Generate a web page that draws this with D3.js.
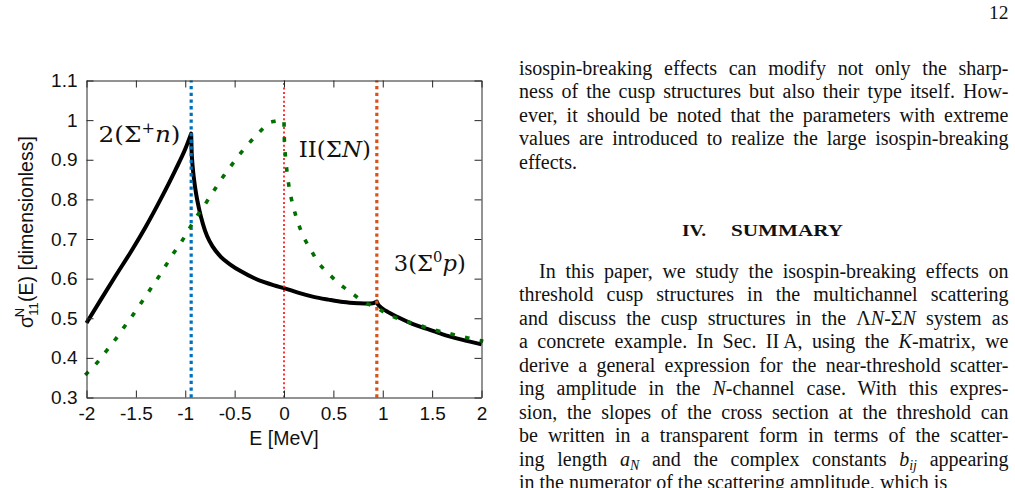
<!DOCTYPE html>
<html>
<head>
<meta charset="utf-8">
<script src="https://cdn.jsdelivr.net/npm/d3@7"></script>
<style>
  body { margin: 0; background: #fff; }
</style>
</head>
<body>
<svg id="page" width="1015" height="488"></svg>
<script>
// cross section sigma_11^N(E)
const blackE = [-2, -1.85, -1.7, -1.55, -1.4, -1.25, -1.1, -1.0, -0.94,
  -0.935, -0.93, -0.92, -0.91, -0.89, -0.86, -0.82, -0.78, -0.72, -0.64, -0.54, -0.44, -0.3, -0.2, -0.1, 0,
  0.15, 0.3, 0.45, 0.6, 0.75, 0.85, 0.9, 0.94,
  0.95, 0.97, 1.0, 1.05, 1.15, 1.3, 1.45, 1.6, 1.8, 2.0];
const blackS = [0.488, 0.549, 0.609, 0.668, 0.731, 0.800, 0.874, 0.927, 0.966,
  0.918, 0.898, 0.870, 0.848, 0.814, 0.776, 0.737, 0.708, 0.680, 0.655, 0.635, 0.619, 0.601, 0.591, 0.583, 0.576,
  0.564, 0.554, 0.547, 0.541, 0.538, 0.537, 0.538, 0.542,
  0.536, 0.530, 0.524, 0.516, 0.503, 0.486, 0.473, 0.460, 0.446, 0.434];
const blackCusps = [-0.94, 0.94];

const greenE = [-2, -1.892, -1.797, -1.706, -1.618, -1.531, -1.443, -1.362, -1.278, -1.197, -1.116, -1.031,
  -0.954, -0.873, -0.788, -0.707, -0.623, -0.535, -0.444, -0.349, -0.245, -0.13, 0,
  0.002, 0.008, 0.02, 0.04, 0.066, 0.1, 0.144, 0.2, 0.275, 0.353, 0.454, 0.565, 0.684, 0.802, 0.94,
  1.0, 1.078, 1.213, 1.359, 1.5, 1.646, 1.794, 1.939, 2.0];
const greenS = [0.360, 0.388, 0.418, 0.447, 0.478, 0.508, 0.540, 0.570, 0.601, 0.633, 0.665, 0.696,
  0.728, 0.761, 0.792, 0.823, 0.855, 0.885, 0.915, 0.943, 0.971, 0.995, 1.0,
  0.965, 0.932, 0.895, 0.851, 0.812, 0.776, 0.740, 0.705, 0.671, 0.639, 0.612, 0.586, 0.564, 0.542, 0.528,
  0.517, 0.507, 0.494, 0.483, 0.472, 0.463, 0.454, 0.446, 0.443];
const greenCusps = [0, 0.94];

// thresholds: Sigma+ n, average Sigma N, Sigma0 p
const thresholdE = [-0.94, 0, 0.94];
const thresholdColors = ["#0072bd", "#ff2020", "#d95319"];

const xTicks = [-2, -1.5, -1, -0.5, 0, 0.5, 1, 1.5, 2];
const xTickLabels = ["-2", "-1.5", "-1", "-0.5", "0", "0.5", "1", "1.5", "2"];
const yTicks = [0.3, 0.4, 0.5, 0.6, 0.7, 0.8, 0.9, 1.0, 1.1];
const yTickLabels = ["0.3", "0.4", "0.5", "0.6", "0.7", "0.8", "0.9", "1", "1.1"];

const para1 = [
  "isospin-breaking effects can modify not only the sharp-",
  "ness of the cusp structures but also their type itself. How-",
  "ever, it should be noted that the parameters with extreme",
  "values are introduced to realize the large isospin-breaking",
  "effects."
];
const para2 = [
  "In this paper, we study the isospin-breaking effects on",
  "threshold cusp structures in the multichannel scattering",
  "and discuss the cusp structures in the Λ*N*-Σ*N* system as",
  "a concrete example. In Sec. II\u2009A, using the *K*-matrix, we",
  "derive a general expression for the near-threshold scatter-",
  "ing amplitude in the *N*-channel case. With this expres-",
  "sion, the slopes of the cross section at the threshold can",
  "be written in a transparent form in terms of the scatter-",
  "ing length *a*_N and the complex constants *b*_ij appearing",
  "in the numerator of the scattering amplitude, which is"
];

const svg = d3.select("#page");
svg.append("rect").attr("width", 1015).attr("height", 488).attr("fill", "#fff");

// ---------- chart ----------
const x = d3.scaleLinear().domain([-2, 2]).range([86.5, 481.5]);
const y = d3.scaleLinear().domain([0.3, 1.1]).range([397.5, 80.5]);
const sans = "'Liberation Sans', Arial, Helvetica, sans-serif";
const axisColor = "#262626";

const chart = svg.append("g");

const line = d3.line().x(d => x(d[0])).y(d => y(d[1])).curve(d3.curveMonotoneX);

// one path, broken into smooth pieces at the cusps
function cuspPath(E, S, cusps) {
  const pts = E.map((e, i) => [e, S[i]]);
  const pieces = [];
  let cur = [];
  pts.forEach(p => {
    cur.push(p);
    if (cusps.includes(p[0])) { pieces.push(cur); cur = [p]; }
  });
  if (cur.length > 1) pieces.push(cur);
  return pieces.map((seg, i) => i === 0 ? line(seg) : line(seg).replace(/^M/, "L")).join("");
}

chart.append("path")
  .attr("d", cuspPath(blackE, blackS, blackCusps))
  .attr("fill", "none")
  .attr("stroke", "#000")
  .attr("stroke-width", 4)
  .attr("stroke-linejoin", "round");

chart.selectAll(".threshold")
  .data(thresholdE)
  .enter().append("line")
  .attr("class", "threshold")
  .attr("x1", d => x(d)).attr("x2", d => x(d))
  .attr("y1", y(0.3)).attr("y2", y(1.1))
  .attr("stroke", (d, i) => thresholdColors[i])
  .attr("stroke-width", (d, i) => i === 1 ? 1.8 : 3.2)
  .attr("stroke-dasharray", (d, i) => i === 1 ? "2 2.4" : "3.3 3.4");

chart.append("path")
  .attr("d", cuspPath(greenE, greenS, greenCusps))
  .attr("fill", "none")
  .attr("stroke", "#007000")
  .attr("stroke-width", 3.6)
  .attr("stroke-linecap", "square")
  .attr("stroke-dasharray", "1 14");

// axes box, ticks pointing inward
function styleAxis(g) {
  g.select(".domain").attr("stroke", axisColor).attr("stroke-width", 1);
  g.selectAll(".tick line").attr("stroke", axisColor);
  g.selectAll("text").attr("font-family", sans).attr("font-size", 19).attr("fill", "#111");
}
chart.append("g")
  .attr("transform", `translate(0,${y(0.3)})`)
  .call(d3.axisBottom(x).tickValues(xTicks).tickFormat((d, i) => xTickLabels[i])
    .tickSizeInner(-7).tickSizeOuter(0).tickPadding(9.5))
  .call(styleAxis);
chart.append("g")
  .attr("transform", `translate(0,${y(1.1)})`)
  .call(d3.axisTop(x).tickValues(xTicks).tickFormat("").tickSizeInner(-7).tickSizeOuter(0))
  .call(styleAxis);
chart.append("g")
  .attr("transform", `translate(${x(-2)},0)`)
  .call(d3.axisLeft(y).tickValues(yTicks).tickFormat((d, i) => yTickLabels[i])
    .tickSizeInner(-7).tickSizeOuter(0).tickPadding(9))
  .call(styleAxis);
chart.append("g")
  .attr("transform", `translate(${x(2)},0)`)
  .call(d3.axisRight(y).tickValues(yTicks).tickFormat("").tickSizeInner(-7).tickSizeOuter(0))
  .call(styleAxis);

chart.append("text")
  .attr("x", (x(-2) + x(2)) / 2).attr("y", 445)
  .attr("text-anchor", "middle")
  .attr("font-family", sans).attr("font-size", 19.5).attr("fill", "#111")
  .text("E [MeV]");

const ylab = chart.append("text")
  .attr("transform", "translate(33,232) rotate(-90)")
  .attr("text-anchor", "middle")
  .attr("font-family", sans).attr("font-size", 19.5).attr("fill", "#111");
ylab.append("tspan").text("σ");
ylab.append("tspan").attr("font-size", 13).attr("dy", 5).text("11");
ylab.append("tspan").attr("font-size", 13).attr("dx", -15).attr("dy", -14).text("N");
ylab.append("tspan").attr("dx", 6).attr("dy", 9).text("(E) [dimensionless]");

// channel labels
const serif = "'DejaVu Serif', 'Liberation Serif', serif";
const labels = [
  {e: -1.878, s: 0.945, w: 82, parts: [["2(Σ", ""], ["+", "sup"], ["n", "it"], [")", ""]]},
  {e: 0.15, s: 0.908, w: 72, parts: [["II(Σ", ""], ["N", "it"], [")", ""]]},
  {e: 1.112, s: 0.618, w: 72, parts: [["3(Σ", ""], ["0", "sup"], ["p", "it"], [")", ""]]}
];
labels.forEach(l => {
  const t = chart.append("text")
    .attr("x", x(l.e)).attr("y", y(l.s))
    .attr("font-family", serif).attr("font-size", 23).attr("fill", "#111")
    .attr("textLength", l.w).attr("lengthAdjust", "spacingAndGlyphs");
  let up = 0;
  l.parts.forEach(([txt, kind]) => {
    const ts = t.append("tspan").text(txt);
    if (kind === "sup") { ts.attr("font-size", 15).attr("dy", -9); up = 9; return; }
    if (kind === "it") ts.attr("font-style", "italic");
    if (up) { ts.attr("dy", up); up = 0; }
  });
});

// ---------- text column ----------
const textFont = "'Liberation Serif', 'Times New Roman', serif";
const colLeft = 519, colRight = 1008.5, lead = 23.45;
const col = svg.append("g").attr("font-family", textFont).attr("font-size", 20).attr("fill", "#111");

function drawLine(str, x0, yb, justify) {
  const t = col.append("text").attr("x", x0).attr("y", yb);
  let down = 0;
  str.split(/(\*[^*]+\*|_[A-Za-z]+)/).filter(s => s).forEach(s => {
    const ts = t.append("tspan");
    if (s[0] === "_") {
      ts.text(s.slice(1)).attr("font-style", "italic").attr("font-size", 14).attr("dy", 4);
      down = 4;
      return;
    }
    if (s[0] === "*") ts.text(s.slice(1, -1)).attr("font-style", "italic");
    else ts.text(s);
    if (down) { ts.attr("dy", -down); down = 0; }
  });
  if (justify) {
    const natural = t.node().getComputedTextLength();
    const spaces = (str.match(/ /g) || []).length;
    if (spaces) t.attr("word-spacing", ((colRight - x0) - natural) / spaces + "px");
  }
}

para1.forEach((s, i) => drawLine(s, colLeft, 75 + i * lead, i < para1.length - 1));
para2.forEach((s, i) => drawLine(s, i === 0 ? colLeft + 20 : colLeft, 278 + i * lead, i < para2.length - 1));

const head = col.append("text")
  .attr("y", 236)
  .attr("font-weight", "bold").attr("font-size", 17);
head.append("tspan").attr("x", 682).attr("textLength", 24).attr("lengthAdjust", "spacingAndGlyphs").text("IV.");
head.append("tspan").attr("x", 731).attr("textLength", 112).attr("lengthAdjust", "spacingAndGlyphs").text("SUMMARY");

col.append("text")
  .attr("x", colRight).attr("y", 18.5)
  .attr("text-anchor", "end").attr("font-size", 19.5)
  .text("12");
</script>
</body>
</html>
